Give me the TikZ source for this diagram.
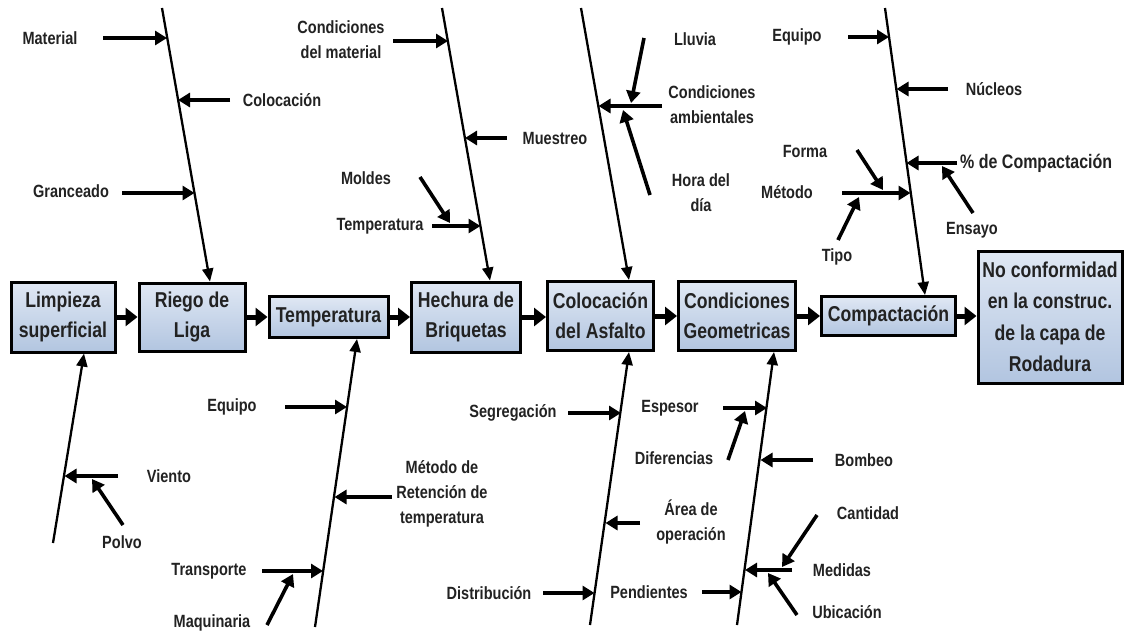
\documentclass[tikz,border=0pt]{standalone}
\usepackage{fontspec}
\setmainfont{Liberation Sans}
\newfontfamily\narrowbold{Liberation Sans Bold}[FakeStretch=0.82]
\usetikzlibrary{arrows.meta,backgrounds}

\definecolor{boxtop}{RGB}{224,232,244}
\definecolor{boxbot}{RGB}{178,197,224}
\definecolor{boxshade}{RGB}{200,214,236}
\definecolor{ink}{RGB}{34,34,34}

\tikzset{
  stage/.style={draw=black, line width=3pt, top color=boxtop, bottom color=boxbot,
                align=center, inner sep=0pt, text=ink,
                font=\narrowbold\fontsize{21.5}{30}\selectfont},
  cause/.style={align=center, inner sep=0pt, text=ink,
                font=\narrowbold\fontsize{17.7}{25}\selectfont},
  bone/.style={line width=2.3pt, -{Triangle[length=13pt,width=11pt]}},
  twig/.style={line width=3.6pt, -{Triangle[length=12pt,width=14pt]}},
  flow/.style={line width=5pt, -{Triangle[length=12pt,width=18pt]}},
}

\begin{document}
\begin{tikzpicture}[x=1pt,y=-1pt]
\useasboundingbox (0,0) rectangle (1126,634);
\fill[white] (0,0) rectangle (1126,634);

% ---------- process stages ----------
\node[stage, minimum width=104pt, minimum height=70pt] (limp) at (63,317) {Limpieza\\superficial};
\node[stage, minimum width=106pt, minimum height=68pt] (riego) at (192,317) {Riego de\\Liga};
\node[stage, minimum width=119pt, minimum height=41pt] (temp) at (328.5,317) {Temperatura};
\node[stage, minimum width=109pt, minimum height=70pt] (hech) at (466,317) {Hechura de\\Briquetas};
\node[stage, minimum width=106pt, minimum height=69pt] (asf) at (600.5,316) {Colocación\\del Asfalto};
\node[stage, minimum width=117pt, minimum height=69pt] (geo) at (737,316) {Condiciones\\Geometricas};
\node[stage, minimum width=134pt, minimum height=39pt] (comp) at (888.5,316) {Compactación};
\node[stage, minimum width=144pt, minimum height=132pt, font=\narrowbold\fontsize{21.5}{31.5}\selectfont] (nc) at (1050,317) {No conformidad\\en la construc.\\de la capa de\\Rodadura};

% soft shadows behind the stages
\begin{scope}[on background layer]
  \foreach \b in {limp,riego,temp,hech,asf,geo,comp,nc}{
    \fill[boxshade, opacity=0.55] ([shift={(4,5)}]\b.south west) rectangle ([shift={(4,5)}]\b.north east);
    \fill[boxshade] ([shift={(7,8)}]\b.south west) rectangle ([shift={(7,8)}]\b.north east);
  }
\end{scope}

% main flow
\draw[flow] (limp.east) -- (riego.west);
\draw[flow] (riego.east) -- (temp.west);
\draw[flow] (temp.east) -- (hech.west);
\draw[flow] (hech.east) -- (asf.west |- hech.east);
\draw[flow] (asf.east) -- (geo.west);
\draw[flow] (geo.east) -- (comp.west);
\draw[flow] (comp.east) -- (nc.west |- comp.east);

% ---------- upper bones ----------
\draw[bone] (162,8) coordinate (b1s) -- (210,281.5) coordinate (b1e);
\draw[bone] (442,8) coordinate (b2s) -- (490,280.5) coordinate (b2e);
\draw[bone] (581,8) coordinate (b3s) -- (629,280) coordinate (b3e);
\draw[bone] (885,8) coordinate (b4s) -- (925,295) coordinate (b4e);

% ---------- lower bones ----------
\draw[bone] (53,543) coordinate (b5s) -- (84,353.5) coordinate (b5e);
\draw[bone] (315,627) coordinate (b6s) -- (357,339) coordinate (b6e);
\draw[bone] (590,625) coordinate (b7s) -- (629,352) coordinate (b7e);
\draw[bone] (737,625) coordinate (b8s) -- (774,352) coordinate (b8e);

% ---------- Riego de Liga ----------
\node[cause] (cMaterial) at (50,38) {Material};
\draw[twig] (103,38) coordinate (t11) -- (167,38) coordinate (h11);
\node[cause] (cColoc) at (282,100) {Colocación};
\draw[twig] (230,100) coordinate (t12) -- (178,100) coordinate (h12);
\node[cause] (cGranc) at (71,191) {Granceado};
\draw[twig] (122,193) coordinate (t13) -- (194.5,193) coordinate (h13);

% ---------- Hechura de Briquetas ----------
\node[cause] (cCondMat) at (341,40) {Condiciones\\del material};
\draw[twig] (393,41) coordinate (t21) -- (448,41) coordinate (h21);
\node[cause] (cMuestreo) at (555,138) {Muestreo};
\draw[twig] (507,138) coordinate (t22) -- (465,138) coordinate (h22);
\node[cause] (cTempB) at (380,226) {Temperatura};
\draw[twig] (432,226) coordinate (t23) -- (480.5,226) coordinate (h23);
\node[cause] (cMoldes) at (366,178) {Moldes};
\draw[twig] (420,177) coordinate (t24) -- (450,223) coordinate (h24);

% ---------- Colocacion del Asfalto (upper) ----------
\node[cause] (cAmb) at (712,105) {Condiciones\\ambientales};
\draw[twig] (662,106) coordinate (t31) -- (598.5,106) coordinate (h31);
\node[cause] (cLluvia) at (695,39) {Lluvia};
\draw[twig] (644,38) coordinate (t32) -- (631,103) coordinate (h32);
\node[cause] (cHora) at (701,193) {Hora del\\día};
\draw[twig] (650,195) coordinate (t33) -- (623,110) coordinate (h33);

% ---------- Compactacion ----------
\node[cause] (cEquipoC) at (797,37) {Equipo};
\draw[twig] (848,37) coordinate (t41) -- (889,37) coordinate (h41);
\node[cause] (cNucleos) at (994,89) {Núcleos};
\draw[twig] (948,89) coordinate (t42) -- (896.5,89) coordinate (h42);
\node[cause, anchor=west, font=\narrowbold\fontsize{19.5}{25}\selectfont] (cPct) at (960,163) {\% de Compactación};
\draw[twig] (957,163) coordinate (t43) -- (906.5,163) coordinate (h43);
\node[cause] (cEnsayo) at (972,230) {Ensayo};
\draw[twig] (973,213) coordinate (t44) -- (942,166) coordinate (h44);
\node[cause] (cMetodo) at (787,192) {Método};
\draw[twig] (842,193) coordinate (t45) -- (910.5,193) coordinate (h45);
\node[cause] (cForma) at (805,151) {Forma};
\draw[twig] (857,150) coordinate (t46) -- (883,190) coordinate (h46);
\node[cause] (cTipo) at (837,257) {Tipo};
\draw[twig] (838,240) coordinate (t47) -- (859,197) coordinate (h47);

% ---------- Limpieza superficial ----------
\node[cause] (cViento) at (169,476) {Viento};
\draw[twig] (118,476) coordinate (t51) -- (64.5,476) coordinate (h51);
\node[cause] (cPolvo) at (122,542) {Polvo};
\draw[twig] (123,525) coordinate (t52) -- (92,479) coordinate (h52);

% ---------- Temperatura ----------
\node[cause] (cEquipoT) at (232,407) {Equipo};
\draw[twig] (285,407) coordinate (t61) -- (347,407) coordinate (h61);
\node[cause] (cRetencion) at (442,494) {Método de\\Retención de\\temperatura};
\draw[twig] (392,497) coordinate (t62) -- (334.5,497) coordinate (h62);
\node[cause] (cTransp) at (209,571) {Transporte};
\draw[twig] (262,571) coordinate (t63) -- (323,571) coordinate (h63);
\node[cause] (cMaq) at (212,623) {Maquinaria};
\draw[twig] (267,625) coordinate (t64) -- (293,574) coordinate (h64);

% ---------- Colocacion del Asfalto (lower) ----------
\node[cause] (cSegreg) at (513,413) {Segregación};
\draw[twig] (568,413) coordinate (t71) -- (621,413) coordinate (h71);
\node[cause] (cArea) at (691,522) {Área de\\operación};
\draw[twig] (640,523) coordinate (t72) -- (605.5,523) coordinate (h72);
\node[cause] (cDistrib) at (489,593) {Distribución};
\draw[twig] (543,593) coordinate (t73) -- (594.5,593) coordinate (h73);

% ---------- Condiciones Geometricas ----------
\node[cause] (cEspesor) at (670,408) {Espesor};
\draw[twig] (723,408) coordinate (t81) -- (767,408) coordinate (h81);
\node[cause] (cDifer) at (674,458) {Diferencias};
\draw[twig] (728,460) coordinate (t82) -- (745,411) coordinate (h82);
\node[cause] (cBombeo) at (864,460) {Bombeo};
\draw[twig] (813,460) coordinate (t83) -- (760.5,460) coordinate (h83);
\node[cause] (cPend) at (649,592) {Pendientes};
\draw[twig] (702,592) coordinate (t84) -- (741.5,592) coordinate (h84);
\node[cause] (cMedidas) at (842,570) {Medidas};
\draw[twig] (792,570) coordinate (t85) -- (745,570) coordinate (h85);
\node[cause] (cCantidad) at (868,513) {Cantidad};
\draw[twig] (817,515) coordinate (t86) -- (782,567) coordinate (h86);
\node[cause] (cUbic) at (847,612) {Ubicación};
\draw[twig] (797,615) coordinate (t87) -- (768,573) coordinate (h87);
\end{tikzpicture}
\end{document}
